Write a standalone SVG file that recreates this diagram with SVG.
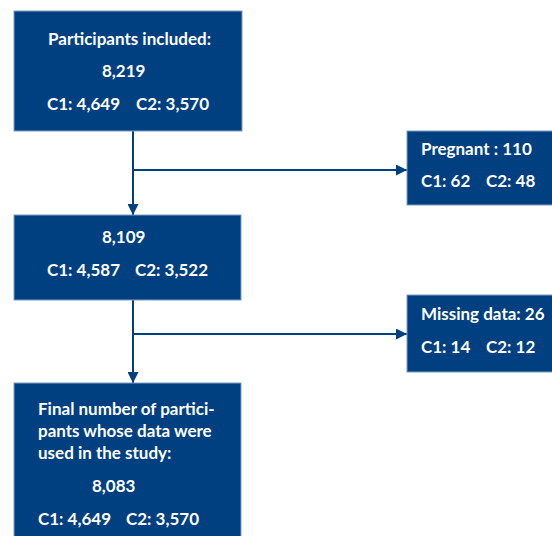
<svg xmlns="http://www.w3.org/2000/svg" width="552" height="536" viewBox="0 0 552 536">
<style>
.box{fill:#004080;stroke:#7f9cc0;stroke-width:1}
.t{font-family:Lato,"Liberation Sans",sans-serif;font-weight:bold;font-size:17px;fill:#ffffff}
.c{stroke:#004080;stroke-width:2;fill:none}
</style>
<defs>
<marker id="ah" viewBox="0 0 10 10" refX="10" refY="5" markerWidth="5.5" markerHeight="5.5" orient="auto" markerUnits="strokeWidth">
<path d="M0,0 L10,5 L0,10 z" fill="#004080"/>
</marker>
</defs>
<rect width="552" height="536" fill="#ffffff"/>
<g id="connectors">
<path class="c" d="M133,131 V215" marker-end="url(#ah)"/>
<path class="c" d="M133,170 H407" marker-end="url(#ah)"/>
<path class="c" d="M133,300 V383" marker-end="url(#ah)"/>
<path class="c" d="M133,334 H407" marker-end="url(#ah)"/>
</g>
<g id="n1">
<rect class="box" x="14" y="11" width="228" height="120"/>
<text class="t" x="48" y="45">Participants included:</text>
<text class="t" x="102" y="77">8,219</text>
<text class="t" x="47" y="110">C1: 4,649</text>
<text class="t" x="136" y="110">C2: 3,570</text>
</g>
<g id="n2">
<rect class="box" x="407" y="131" width="146" height="74"/>
<text class="t" x="421" y="155">Pregnant : 110</text>
<text class="t" x="421" y="187">C1: 62</text>
<text class="t" x="486" y="187">C2: 48</text>
</g>
<g id="n3">
<rect class="box" x="14" y="215" width="227" height="85"/>
<text class="t" x="102" y="243">8,109</text>
<text class="t" x="47" y="276">C1: 4,587</text>
<text class="t" x="135" y="276">C2: 3,522</text>
</g>
<g id="n4">
<rect class="box" x="407" y="295" width="146" height="77"/>
<text class="t" x="421" y="320">Missing data: 26</text>
<text class="t" x="421" y="353">C1: 14</text>
<text class="t" x="486" y="353">C2: 12</text>
</g>
<g id="n5">
<rect class="box" x="14" y="383" width="227" height="160"/>
<text class="t" x="38" y="415">Final number of partici-</text>
<text class="t" x="38" y="437">pants whose data were</text>
<text class="t" x="38" y="459">used in the study:</text>
<text class="t" x="92" y="492">8,083</text>
<text class="t" x="38" y="525">C1: 4,649</text>
<text class="t" x="126" y="525">C2: 3,570</text>
</g>
</svg>
